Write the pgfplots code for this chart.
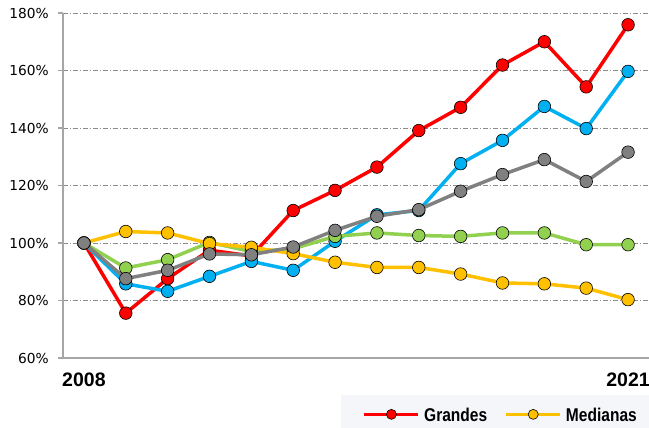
\documentclass[border=0pt]{standalone}
\usepackage{fontspec}
\usepackage{pgfplots}
\pgfplotsset{compat=1.18}
\setmainfont{DejaVu Sans}
\newfontfamily\yearfont{Liberation Sans}
\newfontfamily\legfont[FakeStretch=0.84]{Liberation Sans}

\definecolor{cred}{RGB}{255,0,0}
\definecolor{cblue}{RGB}{0,176,240}
\definecolor{cgreen}{RGB}{146,208,80}
\definecolor{cyellow}{RGB}{255,192,0}
\definecolor{cgray}{RGB}{128,128,128}
\definecolor{legbg}{RGB}{244,246,250}
\definecolor{gridc}{RGB}{140,140,140}
\definecolor{axisc}{RGB}{166,166,166}

\pgfplotstableread{
x grandes azul verde medianas gris
0  100.0 100.0 100.0 100.0 100.0
1  75.6  85.8  91.3  104.0 87.6
2  87.6  83.2  94.2  103.5 90.5
3  97.5  88.4  100.2 99.8  96.2
4  95.5  93.6  97.0  98.5  95.9
5  111.3 90.5  98.0  96.3  98.6
6  118.3 100.6 102.3 93.3  104.4
7  126.4 109.8 103.5 91.5  109.3
8  139.1 111.3 102.6 91.5  111.6
9  147.2 127.6 102.3 89.2  118.0
10 161.9 135.7 103.5 86.1  123.8
11 170.0 147.5 103.5 85.8  129.0
12 154.3 139.8 99.4  84.3  121.4
13 175.9 159.7 99.4  80.3  131.6
}\datos

\begin{document}
\begin{tikzpicture}
\useasboundingbox (-63pt,-70pt) rectangle (586pt,358pt);
\begin{axis}[
  at={(0,0)}, anchor=south west,
  scale only axis,
  width=586pt, height=345pt,
  xmin=-0.5, xmax=13.5,
  ymin=60, ymax=180,
  axis x line*=bottom, axis y line*=left,
  axis line style={draw=axisc, line width=1.3pt, -},
  xtick={0,13}, xticklabels={2008,2021},
  x tick style={draw=none},
  xticklabel style={font=\yearfont\bfseries\fontsize{19.5}{20}\selectfont, anchor=north, inner sep=0pt, yshift=-10pt},
  ytick={60,80,100,120,140,160,180},
  yticklabels={60\%,80\%,100\%,120\%,140\%,160\%,180\%},
  y tick style={draw=axisc, line width=1.3pt},
  tick align=outside, major tick length=5pt,
  yticklabel style={font=\fontsize{13.75}{16}\selectfont, anchor=east, inner sep=0pt, xshift=-9pt},
  ymajorgrids,
  major grid style={draw=gridc, line width=0.9pt, dash pattern=on 5pt off 2pt on 1pt off 2pt},
  every axis plot/.append style={line width=3.5pt, mark=*, mark size=6.3pt},
  legend columns=2,
  legend style={at={(1,-0.1072)}, anchor=north east, fill=legbg, draw=none,
    inner xsep=12pt, inner ysep=0pt,
    nodes={inner sep=0pt, text height=26.7pt, text depth=6.3pt, anchor=base},
    font=\legfont\bfseries\fontsize{18.5}{20}\selectfont,
    /tikz/every odd column/.append style={column sep=4pt},
    /tikz/every even column/.append style={column sep=8pt}},
  legend image code/.code={
    \path[draw=none, fill=none] (0pt,7.5pt) -- (65pt,7.5pt);
    \draw[mark repeat=2, mark phase=2, mark size=5pt] plot coordinates {(11pt,7.5pt) (38pt,7.5pt) (65pt,7.5pt)};
  },
]
\addplot[color=cred, mark options={draw=black, fill=cred, line width=0.6pt}] table[x=x, y=grandes] {\datos};
\addlegendentry{Grandes}
\addplot[forget plot, color=cblue, mark options={draw=black, fill=cblue, line width=0.6pt}] table[x=x, y=azul] {\datos};
\addplot[forget plot, color=cgreen, mark options={draw=black, fill=cgreen, line width=0.6pt}] table[x=x, y=verde] {\datos};
\addplot[color=cyellow, mark options={draw=black, fill=cyellow, line width=0.6pt}] table[x=x, y=medianas] {\datos};
\addlegendentry{Medianas}
\addplot[forget plot, color=cgray, mark options={draw=black, fill=cgray, line width=0.6pt}] table[x=x, y=gris] {\datos};
\end{axis}
\end{tikzpicture}
\end{document}
